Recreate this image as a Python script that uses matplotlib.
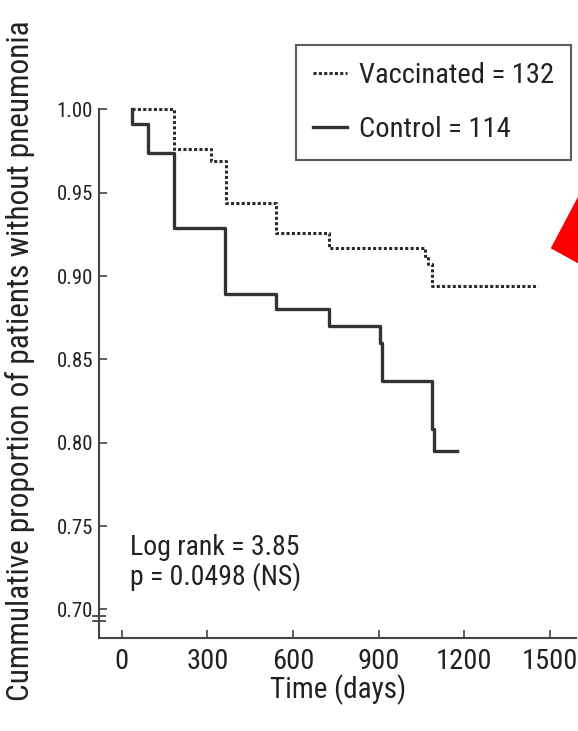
import matplotlib
matplotlib.use('Agg')
import matplotlib.pyplot as plt
from matplotlib import font_manager as fm
from matplotlib.font_manager import FontProperties
from matplotlib.patches import Polygon
import matplotlib.transforms as mtransforms

# ---------------- data ----------------
vacc_days = [37, 183, 313, 365, 540, 725, 1062, 1073, 1086, 1458]
vacc_surv = [1.000, 0.976, 0.969, 0.944, 0.926, 0.917, 0.912, 0.907, 0.894, 0.894]
ctrl_days = [37, 37, 93, 183, 362, 540, 725, 905, 912, 1087, 1094, 1174]
ctrl_surv = [1.000, 0.991, 0.974, 0.929, 0.889, 0.880, 0.870, 0.860, 0.837, 0.808, 0.795, 0.795]
x_ticks = [0, 300, 600, 900, 1200, 1500]
y_ticks = [0.70, 0.75, 0.80, 0.85, 0.90, 0.95, 1.00]
y_tick_labels = ['0.70', '0.75', '0.80', '0.85', '0.90', '0.95', '1.00']
legend_labels = ['Vaccinated = 132', 'Control = 114']
stats_lines = ['Log rank = 3.85', 'p = 0.0498 (NS)']
x_label = 'Time (days)'
y_label = 'Cummulative proportion of patients without pneumonia'

# ---------------- font choice (narrow if available) ----------------
def pick_font_file():
    prefs = ['Liberation Sans Narrow', 'Roboto Condensed', 'Open Sans Condensed',
             'DejaVu Sans Condensed', 'Noto Sans Condensed']
    cands = []
    for f in fm.fontManager.ttflist:
        nm = f.name
        fn = f.fname.lower()
        st = str(f.stretch).lower()
        narrow = ('narrow' in nm.lower() or 'condensed' in nm.lower() or 'condensed' in fn
                  or 'narrow' in fn or st in ('condensed', 'semi-condensed', 'extra-condensed'))
        if not narrow:
            continue
        if f.style != 'normal':
            continue
        if f.weight not in (400, 'normal', 'regular', 'book'):
            continue
        if 'bold' in fn or 'oblique' in fn or 'italic' in fn or 'semicondensed' in fn:
            continue
        cands.append(f)
    for p in prefs:
        for f in cands:
            if f.name == p or p.replace(' ', '').lower() in f.fname.replace('-', '').replace('_', '').lower():
                return f.fname
    if cands:
        return cands[0].fname
    return None

FONT_FILE = pick_font_file()

def fp(size):
    if FONT_FILE:
        return FontProperties(fname=FONT_FILE, size=size)
    return FontProperties(family='DejaVu Sans', size=size * 0.8)

TXT = '#222222'
AX = '#444444'

fig = plt.figure(figsize=(5.78, 7.31), dpi=100)
W, H = 578.0, 731.0
ax = fig.add_axes([99 / W, 1 - 638 / H, (576 - 99) / W, (638 - 26) / H])
ax.set_xlim(-79.5, 1591)
ax.set_ylim(0.6828, 1.05)

# curves
ax.plot(vacc_days, vacc_surv, drawstyle='steps-post', color='#2a2a2a', lw=2.2,
        linestyle=(0, (1.0, 0.75)), dash_capstyle='butt', label=legend_labels[0])
ax.plot(ctrl_days, ctrl_surv, drawstyle='steps-post', color='#333333', lw=2.4,
        linestyle='-', label=legend_labels[1])

# spines
for s in ['top', 'right']:
    ax.spines[s].set_visible(False)
for s in ['left', 'bottom']:
    ax.spines[s].set_color(AX)
    ax.spines[s].set_linewidth(1.5)
ax.spines['left'].set_bounds(0.6828, 1.0)

ax.set_xticks(x_ticks)
ax.set_xticklabels([str(t) for t in x_ticks])
ax.set_yticks(y_ticks)
ax.set_yticklabels(y_tick_labels)
ax.tick_params(axis='both', direction='in', length=5.5, width=1.2, color=AX, labelcolor=TXT)
ax.tick_params(axis='x', pad=7)
ax.tick_params(axis='y', pad=4.3)
for lab in ax.get_xticklabels():
    lab.set_fontproperties(fp(20.5))
for lab in ax.get_yticklabels():
    lab.set_fontproperties(fp(15))

# axis break marks
bt = mtransforms.blended_transform_factory(ax.transAxes, ax.transData)
for yv in (0.6962, 0.6932):
    ax.plot([-0.0126, 0.0126], [yv, yv], transform=bt, color=AX, lw=1.3, clip_on=False)

# stats text
ax.text(29, 0.7328, stats_lines[0], fontproperties=fp(20), color=TXT, va='baseline', ha='left')
ax.text(29, 0.7148, stats_lines[1], fontproperties=fp(20), color=TXT, va='baseline', ha='left')

# legend
leg = ax.legend(loc='upper left', bbox_to_anchor=(296 / W, 1 - 45 / H), bbox_transform=fig.transFigure,
                prop=fp(20.5), frameon=True, fancybox=False, borderpad=0.6, handlelength=1.2,
                handletextpad=0.42, labelspacing=0.95, borderaxespad=0)
leg.get_frame().set_edgecolor('#333333')
leg.get_frame().set_linewidth(1.5)
for t in leg.get_texts():
    t.set_color(TXT)

# axis labels
fig.text(338 / W, 1 - 690 / H, x_label, fontproperties=fp(21), color=TXT, ha='center', va='center')
fig.text(20 / W, 1 - 361 / H, y_label, fontproperties=fp(22.5), color=TXT, rotation=90,
         ha='center', va='center')

# red triangle artefact at the right edge
tri = Polygon([(550.7 / W, 1 - 248.3 / H), (580 / W, 1 - 193 / H), (580 / W, 1 - 264.4 / H)],
              closed=True, transform=fig.transFigure, facecolor='#ff0000', edgecolor='none')
fig.add_artist(tri)

fig.savefig('out.png', dpi=100)
